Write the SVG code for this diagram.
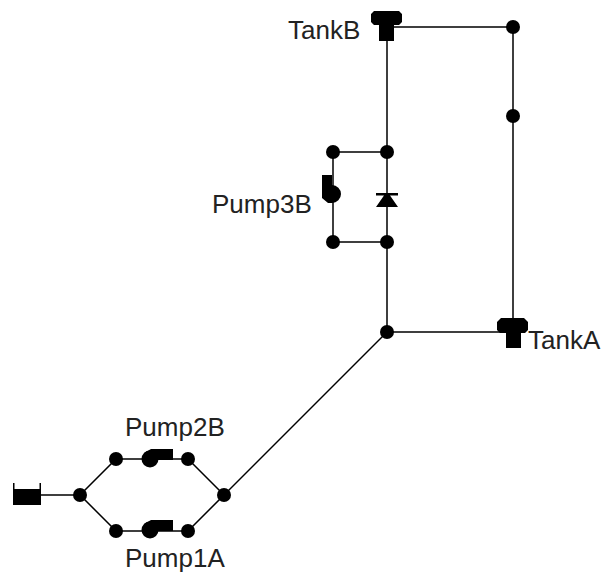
<svg xmlns="http://www.w3.org/2000/svg" width="601" height="574" viewBox="0 0 601 574">
<style>
.c{fill:none;stroke:#000;stroke-width:1.5}
.n{fill:#000}
text{font-family:"Liberation Sans",Arial,sans-serif;font-size:26px;fill:#222}
</style>
<defs><circle id="j" r="7" class="n"/>
<g id="pump"><circle cx="0" cy="0" r="8.5" class="n"/><path class="n" d="M-6-6L1-10H23V1H-2Z"/></g></defs>
<rect width="601" height="574" fill="#fff"/>
<g id="connectors" class="c">
<path d="M387 27V332M387 27H513V332M387 332H513"/>
<path d="M333 152H387M333 242H387M333 152V242"/>
<path d="M387 332L224 495"/>
<path d="M41 495H80L116 459H188L224 495L188 531H116L80 495"/>
</g>
<g id="j1"><use href="#j" x="513" y="27"/></g>
<g id="j2"><use href="#j" x="513" y="116"/></g>
<g id="j3"><use href="#j" x="387" y="152"/></g>
<g id="j4"><use href="#j" x="333" y="152"/></g>
<g id="j5"><use href="#j" x="387" y="242"/></g>
<g id="j6"><use href="#j" x="333" y="242"/></g>
<g id="j7"><use href="#j" x="387" y="332"/></g>
<g id="j8"><use href="#j" x="224" y="495"/></g>
<g id="j9"><use href="#j" x="80" y="495"/></g>
<g id="j10"><use href="#j" x="116" y="459"/></g>
<g id="j11"><use href="#j" x="188" y="459"/></g>
<g id="j12"><use href="#j" x="116" y="531"/></g>
<g id="j13"><use href="#j" x="188" y="531"/></g>
<g id="TankB"><path class="n" d="M371 14L374 11H399L402 14V22L399 25H394V41H379V25H374L371 22Z"/><text x="288" y="39">TankB</text></g>
<g id="TankA"><path class="n" d="M497 322L501 318H524L528 322V330L525 333H521V348H506V333H500L497 330Z"/><text x="528" y="349">TankA</text></g>
<g id="Pump3B"><path class="n" d="M322 175H332V185A9 9 0 0 1 332 203H328L322 198Z"/><text x="212" y="213">Pump3B</text></g>
<g id="Valve"><path class="n" d="M376 193H398V195.500H390L398 207H376L384 195.500H376Z"/></g>
<g id="Pump2B"><use href="#pump" x="150" y="459"/><text x="125" y="436">Pump2B</text></g>
<g id="Pump1A"><use href="#pump" x="150" y="530"/><text x="125" y="567">Pump1A</text></g>
<g id="Reservoir"><path class="n" d="M13 483H14.500V489H39.500V483H41V505H13Z"/></g>
</svg>
